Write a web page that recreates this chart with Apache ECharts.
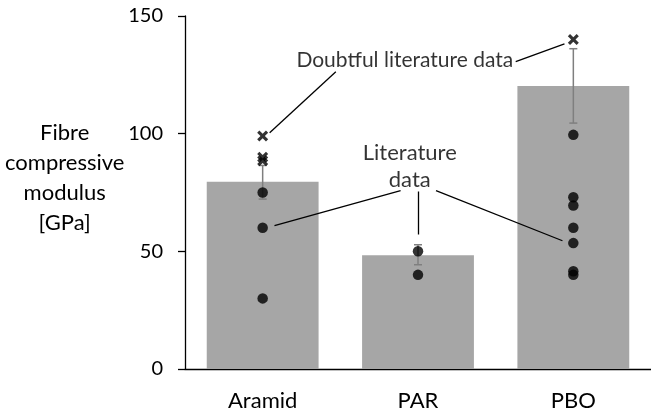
<!DOCTYPE html>
<html>
<head>
<meta charset="utf-8">
<script src="https://cdn.jsdelivr.net/npm/echarts@6/dist/echarts.min.js"></script>
<style>html,body{margin:0;padding:0;background:#fff}#c{width:651px;height:412px}</style>
</head>
<body>
<div id="c"></div>
<script>
// ---- data ----
var categories = ['Aramid', 'PAR', 'PBO'];
var meanValues = [79.6, 48.3, 120.3];
var errLow = [72.2, 44.3, 104.5];
var errHigh = [86.5, 52.8, 136.1];
var aramidLit = [30, 60, 75];
var parLit = [40, 50];
var pboLit = [40, 41.5, 53.5, 60, 69.5, 73, 99.5];
var aramidDoubt = [99, 90, 88.5];
var pboDoubt = [140];
var yTicks = [0, 50, 100, 150];

// ---- annotations (in data space of a hidden value x-axis) ----
var doubtfulText = 'Doubtful literature data';
var literatureText = 'Literature\ndata';
var doubtfulLines = [
  [[0.471, 126.3], [0.045, 100.4]],
  [[1.629, 130.6], [1.943, 138.2]]
];
var literatureLines = [
  [[0.888, 75.8], [0.076, 60.9]],
  [[1.003, 75.4], [1.003, 57.1]],
  [[1.116, 75.8], [1.930, 54.5]]
];
var doubtfulAnchor = [0.915, 131.4];
var literatureAnchor = [0.947, 86.3];

function pts(idx, arr) { return arr.map(function (v) { return [idx, v]; }); }
var litPoints = pts(0, aramidLit).concat(pts(1, parLit), pts(2, pboLit));
var doubtPoints = pts(0, aramidDoubt).concat(pts(2, pboDoubt));
var errData = categories.map(function (c, i) { return [i, errLow[i], errHigh[i]]; });

var FONT = 'Lato';
var crossPath = 'path://M2,0 L5,3 L8,0 L10,2 L7,5 L10,8 L8,10 L5,7 L2,10 L0,8 L3,5 L0,2 Z';

var chart = echarts.init(document.getElementById('c'));
chart.setOption({
  animation: false,
  backgroundColor: '#fff',
  textStyle: { fontFamily: FONT },
  grid: { left: 185, top: 16, width: 479, height: 353.3, containLabel: false },
  xAxis: [
    {
      type: 'category', data: categories,
      axisLine: { show: true, onZero: false, lineStyle: { color: '#000', width: 1.3 } },
      axisTick: { show: false },
      axisLabel: { color: '#000', fontSize: 22, fontFamily: FONT, margin: 21 },
      splitLine: { show: false }
    },
    { type: 'value', min: -0.5, max: 2.5, show: false }
  ],
  yAxis: {
    type: 'value', min: yTicks[0], max: yTicks[yTicks.length - 1], interval: 50,
    axisLine: { show: true, onZero: false, lineStyle: { color: '#000', width: 1.3 } },
    axisTick: { show: true, inside: false, length: 7, lineStyle: { color: '#000', width: 1.3 } },
    axisLabel: { color: '#000', fontSize: 20, fontFamily: FONT, margin: 22 },
    splitLine: { show: false }
  },
  graphic: [{
    type: 'text', left: 75 - 70, top: 188 - 70, z: 10,
    style: {
      text: 'Fibre\ncompressive\nmodulus\n[GPa]', x: 70, y: 70,
      fill: '#000', font: '22px ' + FONT, lineHeight: 30,
      textAlign: 'center', textVerticalAlign: 'middle', align: 'center', verticalAlign: 'middle'
    }
  }],
  series: [
    {
      type: 'bar', data: meanValues, barCategoryGap: '28%',
      itemStyle: { color: '#a6a6a6' }, z: 1
    },
    {
      type: 'custom', data: errData, z: 2,
      renderItem: function (params, api) {
        var x = api.value(0);
        var lo = api.coord([x, api.value(1)]);
        var hi = api.coord([x, api.value(2)]);
        var w = 4;
        var st = { stroke: '#7f7f7f', lineWidth: 1.5 };
        return {
          type: 'group', children: [
            { type: 'line', shape: { x1: lo[0], y1: lo[1], x2: hi[0], y2: hi[1] }, style: st },
            { type: 'line', shape: { x1: lo[0] - w, y1: lo[1], x2: lo[0] + w, y2: lo[1] }, style: st },
            { type: 'line', shape: { x1: hi[0] - w, y1: hi[1], x2: hi[0] + w, y2: hi[1] }, style: st }
          ]
        };
      }
    },
    {
      type: 'scatter', data: litPoints, symbol: 'circle', symbolSize: 10.5,
      itemStyle: { color: '#000' }, z: 3
    },
    {
      type: 'scatter', data: doubtPoints, symbol: crossPath, symbolSize: 11,
      itemStyle: { color: '#000' }, z: 4
    },
    {
      type: 'lines', coordinateSystem: 'cartesian2d', xAxisIndex: 1, z: 5,
      lineStyle: { color: '#000', width: 1.3, opacity: 1 },
      data: doubtfulLines.concat(literatureLines).map(function (c) { return { coords: c }; })
    },
    {
      type: 'scatter', xAxisIndex: 1, symbolSize: 0, z: 6, silent: true,
      data: [
        { value: doubtfulAnchor, label: { formatter: doubtfulText, fontSize: 21 } },
        { value: literatureAnchor, label: { formatter: literatureText, lineHeight: 27 } }
      ],
      label: { show: true, position: 'inside', color: '#000', fontSize: 22, fontFamily: FONT }
    }
  ]
});
</script>
</body>
</html>
